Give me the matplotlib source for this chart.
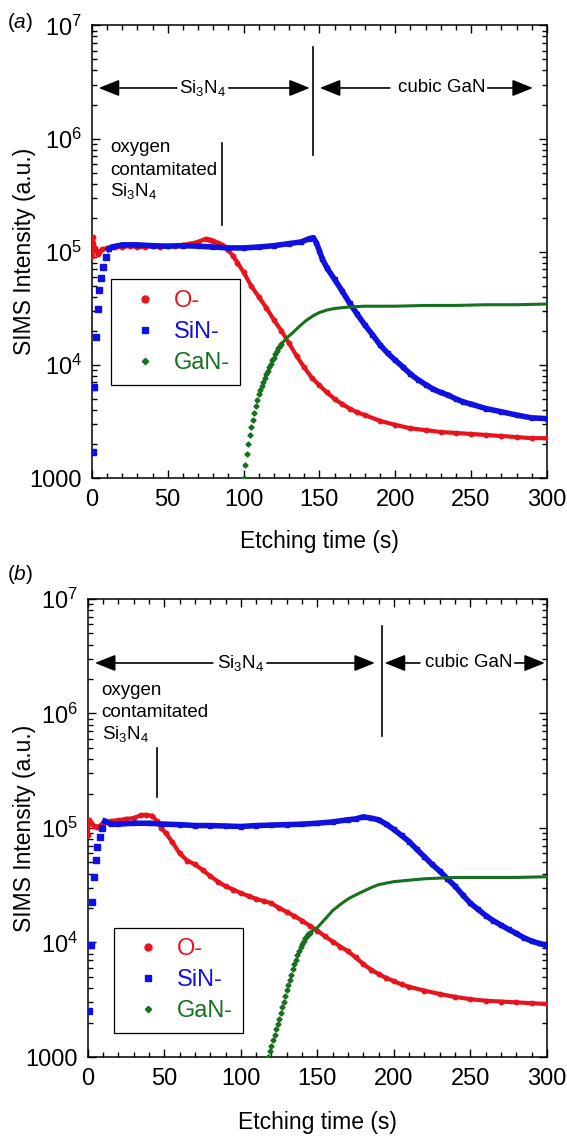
#!/usr/bin/env python3
"""
SIMS depth profiles of Si3N4 capped cubic GaN, two samples (a) and (b)
"""

import numpy as np
import matplotlib
matplotlib.use('Agg')
import matplotlib.pyplot as plt
from matplotlib.lines import Line2D
from matplotlib.ticker import LogLocator, NullFormatter, FuncFormatter, MultipleLocator

plt.rcParams['font.family'] = ['Liberation Sans', 'DejaVu Sans']
plt.rcParams['mathtext.fontset'] = 'custom'
plt.rcParams['mathtext.rm'] = 'Liberation Sans'
plt.rcParams['mathtext.it'] = 'Liberation Sans:italic'

RED = '#e8141c'
BLUE = '#1010e0'
GREEN = '#16701e'

# ---- panel (a) ----
t_o_a = [0, 0.5, 1, 2, 3, 4, 5, 7, 10, 15, 20, 25, 30, 35, 40, 45, 50, 55, 60, 65, 70, 75,
         78, 80, 83, 86, 88, 90, 93, 96, 100, 105, 110, 115, 120, 125, 130, 135, 140, 145,
         150, 155, 160, 165, 170, 175, 180, 190, 200, 210, 220, 230, 240, 250, 260, 270,
         280, 290, 300]
o_a = [9.2e4, 1.35e5, 1.2e5, 1.08e5, 1.02e5, 9.5e4, 1.0e5, 1.05e5, 1.08e5, 1.1e5, 1.1e5,
       1.12e5, 1.1e5, 1.1e5, 1.12e5, 1.1e5, 1.12e5, 1.13e5, 1.15e5, 1.18e5, 1.22e5, 1.3e5,
       1.28e5, 1.25e5, 1.2e5, 1.15e5, 1.1e5, 1.03e5, 9.2e4, 8.0e4, 6.6e4, 5.0e4, 4.0e4,
       3.2e4, 2.5e4, 2.0e4, 1.55e4, 1.2e4, 9.5e3, 7.7e3, 6.6e3, 5.7e3, 5.0e3, 4.5e3, 4.1e3,
       3.8e3, 3.6e3, 3.2e3, 2.95e3, 2.75e3, 2.65e3, 2.55e3, 2.5e3, 2.45e3, 2.4e3, 2.35e3,
       2.3e3, 2.25e3, 2.25e3]

t_sin_rise_a = [0.6, 1.5, 2.8, 4.0, 5.0, 6.0, 7.3, 9.0]
sin_rise_a = [1.7e3, 6.4e3, 1.75e4, 3.1e4, 4.6e4, 5.9e4, 7.3e4, 9.0e4]
t_sin_a = [11, 13, 20, 30, 40, 50, 60, 70, 80, 90, 100, 110, 120, 130, 138, 143, 146, 148,
           150, 152, 155, 160, 165, 170, 175, 180, 185, 190, 195, 200, 205, 210, 215, 220,
           225, 230, 235, 240, 245, 250, 260, 270, 280, 290, 300]
sin_a = [1.05e5, 1.1e5, 1.15e5, 1.15e5, 1.13e5, 1.12e5, 1.13e5, 1.12e5, 1.1e5, 1.08e5,
         1.08e5, 1.1e5, 1.13e5, 1.18e5, 1.22e5, 1.3e5, 1.33e5, 1.2e5, 1.02e5, 8.6e4, 7.2e4,
         5.7e4, 4.5e4, 3.5e4, 2.8e4, 2.25e4, 1.85e4, 1.5e4, 1.27e4, 1.1e4, 9.6e3, 8.3e3,
         7.4e3, 6.7e3, 6.1e3, 5.7e3, 5.4e3, 5.0e3, 4.7e3, 4.5e3, 4.1e3, 3.85e3, 3.6e3,
         3.4e3, 3.35e3]

t_gan_rise_a = [100, 101, 102, 103, 104, 105, 106, 107, 108, 109, 110, 111, 112, 113, 114,
                115, 116, 117, 118, 119, 120, 121, 122, 123, 124, 125]
gan_rise_a = [1000, 1290, 1620, 2000, 2400, 2820, 3270, 3760, 4320, 4900, 5500, 6030, 6530,
              7080, 7670, 8320, 8910, 9550, 10230, 10960, 11610, 12450, 13300, 13960, 14620,
              15310]
t_gan_a = [125, 128.5, 132, 137, 141, 146, 150, 155, 160, 165, 170, 180, 200, 220, 240, 260,
           280, 300]
gan_a = [1.53e4, 1.73e4, 1.9e4, 2.2e4, 2.45e4, 2.72e4, 2.9e4, 3.05e4, 3.15e4, 3.2e4, 3.25e4,
         3.3e4, 3.3e4, 3.35e4, 3.35e4, 3.4e4, 3.4e4, 3.45e4]

# ---- panel (b) ----
t_o_b = [0, 0.5, 2, 4, 6, 8, 10, 15, 20, 25, 30, 35, 38, 42, 45, 48, 51, 55, 60, 65, 70,
         75, 80, 85, 90, 95, 100, 105, 110, 115, 120, 125, 130, 135, 140, 145, 150, 155,
         160, 165, 170, 175, 180, 185, 190, 195, 200, 205, 210, 220, 230, 240, 250, 260,
         270, 280, 290, 300]
o_b = [8.7e4, 1.17e5, 1.1e5, 1.05e5, 1.02e5, 1.05e5, 1.1e5, 1.15e5, 1.17e5, 1.2e5, 1.22e5,
       1.3e5, 1.3e5, 1.28e5, 1.15e5, 1.0e5, 9.0e4, 7.6e4, 6.0e4, 5.2e4, 4.8e4, 4.3e4,
       3.8e4, 3.4e4, 3.1e4, 2.9e4, 2.7e4, 2.55e4, 2.4e4, 2.3e4, 2.2e4, 2.0e4, 1.85e4,
       1.7e4, 1.55e4, 1.4e4, 1.27e4, 1.13e4, 1.02e4, 9.2e3, 8.4e3, 7.4e3, 6.5e3, 5.8e3,
       5.3e3, 4.9e3, 4.6e3, 4.3e3, 4.1e3, 3.8e3, 3.55e3, 3.35e3, 3.2e3, 3.1e3, 3.05e3,
       3.0e3, 2.95e3, 2.9e3]

t_sin_rise_b = [0.7, 2.0, 2.8, 4.0, 5.0, 5.9, 7.8, 9.5]
sin_rise_b = [2.5e3, 9.5e3, 2.26e4, 3.7e4, 5.3e4, 6.8e4, 8.4e4, 1.0e5]
t_sin_b = [11, 15, 20, 30, 40, 50, 60, 70, 80, 90, 100, 110, 120, 130, 140, 150, 160, 170,
           175, 180, 185, 190, 195, 200, 205, 210, 215, 220, 225, 230, 235, 240, 245, 250,
           255, 260, 265, 270, 275, 280, 285, 290, 295, 300]
sin_b = [1.15e5, 1.08e5, 1.08e5, 1.1e5, 1.1e5, 1.08e5, 1.07e5, 1.05e5, 1.05e5, 1.04e5,
         1.03e5, 1.05e5, 1.06e5, 1.07e5, 1.08e5, 1.1e5, 1.13e5, 1.18e5, 1.2e5, 1.25e5,
         1.22e5, 1.18e5, 1.08e5, 9.7e4, 8.6e4, 7.6e4, 6.5e4, 5.6e4, 4.8e4, 4.2e4, 3.6e4,
         3.1e4, 2.6e4, 2.2e4, 1.95e4, 1.72e4, 1.55e4, 1.42e4, 1.3e4, 1.2e4, 1.1e4, 1.03e4,
         9.8e3, 9.4e3]

t_gan_rise_b = [118, 119, 120, 121, 122, 123, 124, 125, 126, 127, 128, 129, 130, 131, 132,
                133, 134, 135, 136, 137, 138, 139, 140, 141, 142, 143, 144, 145]
gan_rise_b = [1000, 1120, 1260, 1400, 1550, 1740, 1950, 2160, 2430, 2720, 3050, 3430, 3850,
              4270, 4730, 5250, 5820, 6460, 7080, 7760, 8410, 9120, 9770, 10350, 10840,
              11350, 11750, 12160]
t_gan_b = [145, 150, 155, 160, 165, 170, 175, 180, 186, 190, 200, 210, 220, 230, 240, 260,
           280, 300]
gan_b = [1.22e4, 1.35e4, 1.6e4, 1.9e4, 2.15e4, 2.4e4, 2.6e4, 2.8e4, 3.05e4, 3.2e4, 3.4e4,
         3.5e4, 3.6e4, 3.65e4, 3.7e4, 3.7e4, 3.7e4, 3.75e4]

SI3N4 = r'Si$_\mathregular{3}$N$_\mathregular{4}$'


def y_label_fmt(v, pos):
    if abs(v - 1000) < 1:
        return '1000'
    return r'$\mathregular{10^{%d}}$' % int(round(np.log10(v)))


def arrow(ax, tail, tip, y):
    ax.annotate('', xy=(tip, y), xytext=(tail, y),
                arrowprops=dict(arrowstyle='-|>,head_length=0.7,head_width=0.28',
                                color='black', lw=1.2, mutation_scale=18,
                                shrinkA=0, shrinkB=0))


def draw_panel(ax, o_t, o_v, sr_t, sr_v, s_t, s_v, gr_t, gr_v, g_t, g_v):
    ax.plot(o_t, o_v, '-', color=RED, lw=3.0, marker='o', ms=3.2, zorder=3)
    ax.plot(s_t, s_v, '-', color=BLUE, lw=4.0, marker='s', ms=3.5, zorder=4)
    ax.plot(sr_t, sr_v, 's', color=BLUE, ms=4, zorder=4)
    ax.plot(g_t, g_v, '-', color=GREEN, lw=2.2, zorder=5)
    ax.plot(gr_t, gr_v, 'D', color=GREEN, ms=2.6, zorder=5)

    ax.set_yscale('log')
    ax.set_xlim(0, 300)
    ax.set_ylim(1e3, 1e7)
    ax.xaxis.set_major_locator(MultipleLocator(50))
    ax.xaxis.set_minor_locator(MultipleLocator(10))
    ax.yaxis.set_major_locator(LogLocator(base=10))
    ax.yaxis.set_minor_locator(LogLocator(base=10, subs=np.arange(2, 10)))
    ax.yaxis.set_minor_formatter(NullFormatter())
    ax.yaxis.set_major_formatter(FuncFormatter(y_label_fmt))
    ax.tick_params(which='both', direction='in', top=True, right=True, width=1.0,
                   labelsize=17)
    ax.tick_params(which='major', length=6)
    ax.tick_params(which='minor', length=3.5)
    ax.tick_params(axis='x', pad=8)
    ax.tick_params(axis='y', pad=7)
    for sp in ax.spines.values():
        sp.set_linewidth(1.1)

    ax.set_xlabel('Etching time (s)', fontsize=16.5, va='center')
    ax.set_ylabel('SIMS Intensity (a.u.)', fontsize=16.5, va='center')

    handles = [Line2D([], [], ls='', marker='o', ms=5, color=RED),
               Line2D([], [], ls='', marker='s', ms=5, color=BLUE),
               Line2D([], [], ls='', marker='D', ms=3.2, color=GREEN)]
    return handles


def add_legend(ax, handles, anchor):
    leg = ax.legend(handles, ['O-', 'SiN-', 'GaN-'], loc='upper left',
                    bbox_to_anchor=anchor, borderaxespad=0, fontsize=17,
                    labelcolor=[RED, BLUE, GREEN], fancybox=False, framealpha=1,
                    edgecolor='black', handlelength=2.0, handletextpad=0.2,
                    labelspacing=0.38, borderpad=0.45)
    leg.get_frame().set_linewidth(0.9)


fig = plt.figure(figsize=(5.67, 11.4), dpi=100)
ax_a = fig.add_axes([0.162, 0.5807, 0.8025, 0.397])
ax_b = fig.add_axes([0.155, 0.0728, 0.8095, 0.4018])

h = draw_panel(ax_a, t_o_a, o_a, t_sin_rise_a, sin_rise_a, t_sin_a, sin_a,
               t_gan_rise_a, gan_rise_a, t_gan_a, gan_a)
ax_a.xaxis.set_label_coords(0.5, -0.141)
ax_a.yaxis.set_label_coords(-0.149, 0.5)
add_legend(ax_a, h, (0.042, 0.439))

# annotations (a)
arrow(ax_a, 56, 4.5, 2.8e6)
arrow(ax_a, 90.3, 143.7, 2.8e6)
ax_a.text(73, 2.8e6, SI3N4, ha='center', va='center', fontsize=13.5)
ax_a.plot([145.5, 145.5], [7.1e5, 6.4e6], color='black', lw=1.2)
arrow(ax_a, 196.4, 150.3, 2.8e6)
arrow(ax_a, 261, 290.8, 2.8e6)
ax_a.text(230.7, 2.8e6, 'cubic GaN', ha='center', va='center', fontsize=13.5)
ax_a.text(11.9, 8.3e5, 'oxygen', ha='left', va='center', fontsize=13.5)
ax_a.text(11.9, 5.2e5, 'contamitated', ha='left', va='center', fontsize=13.5)
ax_a.text(11.9, 3.47e5, SI3N4, ha='left', va='center', fontsize=13.5)
ax_a.plot([85.7, 85.7], [1.73e5, 9.2e5], color='black', lw=1.2)

h = draw_panel(ax_b, t_o_b, o_b, t_sin_rise_b, sin_rise_b, t_sin_b, sin_b,
               t_gan_rise_b, gan_rise_b, t_gan_b, gan_b)
ax_b.xaxis.set_label_coords(0.5, -0.142)
ax_b.yaxis.set_label_coords(-0.139, 0.5)
add_legend(ax_b, h, (0.057, 0.282))

# annotations (b)
arrow(ax_b, 81.7, 4.6, 2.76e6)
arrow(ax_b, 117, 187.6, 2.76e6)
ax_b.text(99.7, 2.76e6, SI3N4, ha='center', va='center', fontsize=13.5)
ax_b.plot([192.2, 192.2], [6.3e5, 5.8e6], color='black', lw=1.2)
arrow(ax_b, 217, 194, 2.76e6)
arrow(ax_b, 279, 298.7, 2.76e6)
ax_b.text(249, 2.76e6, 'cubic GaN', ha='center', va='center', fontsize=13.5)
ax_b.text(9, 1.6e6, 'oxygen', ha='left', va='center', fontsize=13.5)
ax_b.text(9, 1.01e6, 'contamitated', ha='left', va='center', fontsize=13.5)
ax_b.text(9, 6.6e5, SI3N4, ha='left', va='center', fontsize=13.5)
ax_b.plot([45, 45], [1.86e5, 5.0e5], color='black', lw=1.2)

fig.text(7 / 567, 1 - 22 / 1140, r'($\mathit{a}$)', fontsize=15, ha='left', va='center')
fig.text(7 / 567, 1 - 575 / 1140, r'($\mathit{b}$)', fontsize=15, ha='left', va='center')

fig.savefig('out.png', dpi=100)
